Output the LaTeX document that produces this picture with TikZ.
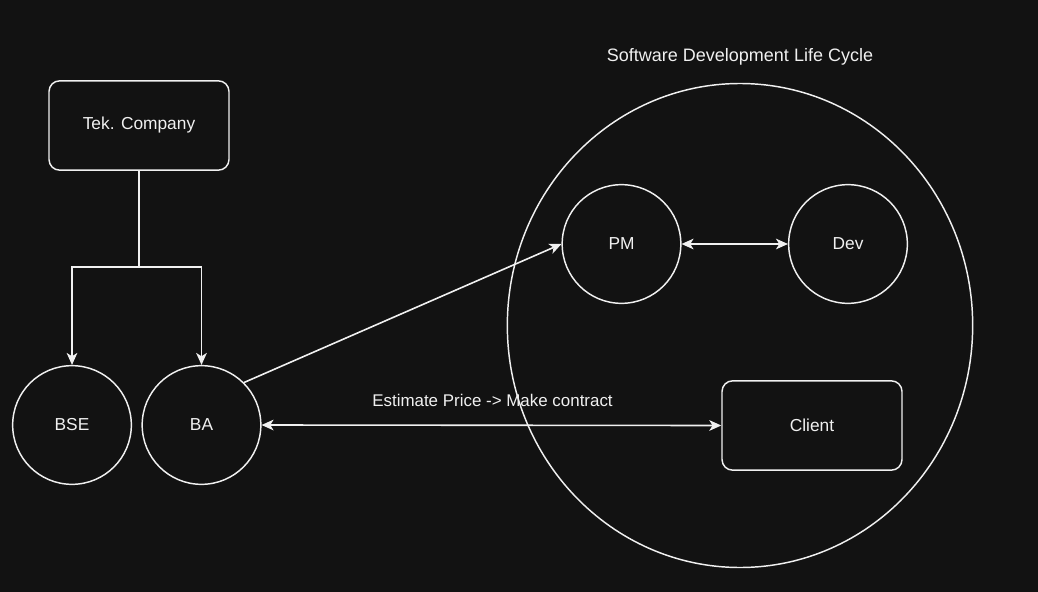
\documentclass[tikz,border=0pt]{standalone}
\usepackage{fontspec}
\setmainfont{Liberation Sans}
\usetikzlibrary{arrows.meta}
\definecolor{bg}{HTML}{121212}
\definecolor{fg}{HTML}{F0F0F0}
\begin{document}
\begin{tikzpicture}[x=0.75pt,y=-0.75pt,
  every node/.style={font=\fontsize{13}{15}\selectfont, text=fg},
  circ/.style={draw=fg, line width=1.1pt, circle, minimum size=89pt, inner sep=0pt},
  rbox/.style={draw=fg, line width=1.1pt, rounded corners=8pt, minimum width=135pt, minimum height=67pt, inner sep=0pt},
  conn/.style={draw=fg, line width=1.2pt},
  arr/.style={conn, -{Stealth[length=9pt,width=8pt,inset=2.5pt]}},
  darr/.style={conn, {Stealth[length=9pt,width=8pt,inset=2.5pt]}-{Stealth[length=9pt,width=8pt,inset=2.5pt]}}
]
\fill[bg] (0,0) rectangle (1038,592);
\useasboundingbox (0,0) rectangle (1038,592);
% big life cycle ellipse
\draw[fg, line width=1.1pt] (740,325.5) ellipse [x radius=174.5pt, y radius=181.5pt];
\node[font=\fontsize{13.5}{16}\selectfont] (title) at (740,57) {Software Development Life Cycle};
\node[rbox] (tek) at (139,125.5) {Tek. Company};
\node[circ] (bse) at (72,425) {BSE};
\node[circ] (ba) at (201.5,425) {BA};
\node[circ] (pm) at (621.5,244) {PM};
\node[circ] (dev) at (848,244) {Dev};
\node[rbox] (client) at (812,425.5) {Client};
\coordinate (split) at (139,267);
\draw[conn] (tek.south) -- (split);
\draw[arr] (split) -| (bse.north);
\draw[arr] (split) -| (ba.north);
\draw[arr] (ba.45) -- (pm.west);
\draw[darr] (ba.east) -- (client.west);
\node[font=\fontsize{12.7}{15}\selectfont] (lbl) at (492.5,400) {Estimate Price -> Make contract};
\draw[darr] (pm.east) -- (dev.west);
\end{tikzpicture}
\end{document}
